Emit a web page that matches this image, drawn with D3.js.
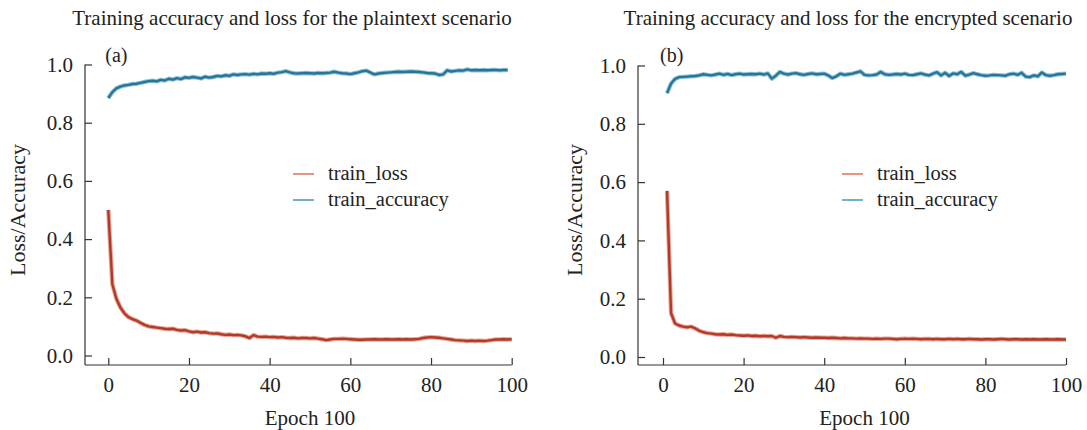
<!DOCTYPE html>
<html>
<head>
<meta charset="utf-8">
<script src="https://cdn.jsdelivr.net/npm/d3@7"></script>
<style>
  body { margin: 0; background: #fff; }
  svg text { font-family: "Liberation Serif", "Times New Roman", serif; fill: #222; }
</style>
</head>
<body>
<svg id="chart"></svg>
<script>
var xTicks = [0, 20, 40, 60, 80, 100];
var yTicks = [0, 0.2, 0.4, 0.6, 0.8, 1.0];
var seriesNames = ["train_loss", "train_accuracy"];

// plaintext run: loss logged on epochs 0..100, accuracy on 0..99
var plainLossEpochs = d3.range(0, 101);
var plainAccEpochs = d3.range(0, 100);
// encrypted run: epochs 1..100
var encEpochs = d3.range(1, 101);

var plainLoss = [0.50, 0.245, 0.195, 0.165, 0.145, 0.132, 0.125, 0.12, 0.112, 0.105,
  0.100, 0.098, 0.096, 0.094, 0.092, 0.091, 0.092, 0.088, 0.086, 0.087,
  0.083, 0.080, 0.082, 0.079, 0.080, 0.077, 0.075, 0.076, 0.073,
  0.071, 0.072, 0.070, 0.071, 0.069, 0.066, 0.060, 0.070, 0.065, 0.064,
  0.065, 0.063, 0.064, 0.062, 0.063, 0.061, 0.060, 0.061, 0.059, 0.060,
  0.060, 0.059, 0.060, 0.058, 0.056, 0.053, 0.055, 0.057, 0.057, 0.058,
  0.057, 0.056, 0.055, 0.054, 0.054, 0.055, 0.055, 0.056, 0.055,
  0.055, 0.056, 0.055, 0.055, 0.056, 0.055, 0.056, 0.055, 0.056,
  0.057, 0.060, 0.062, 0.063, 0.062, 0.061, 0.059, 0.057, 0.055, 0.053,
  0.052, 0.051, 0.050, 0.051, 0.050, 0.051, 0.050, 0.051, 0.053, 0.055,
  0.055, 0.056, 0.055, 0.056];

var plainAcc = [0.885, 0.905, 0.918, 0.924, 0.928, 0.930, 0.933, 0.934, 0.937, 0.940,
  0.943, 0.944, 0.942, 0.947, 0.945, 0.951, 0.948, 0.953, 0.950, 0.956,
  0.954, 0.957, 0.955, 0.952, 0.958, 0.955, 0.957, 0.961, 0.959, 0.963,
  0.961, 0.966, 0.964, 0.966, 0.967, 0.965, 0.968, 0.966, 0.969,
  0.968, 0.970, 0.968, 0.972, 0.974, 0.977, 0.973, 0.970, 0.969, 0.970,
  0.971, 0.970, 0.969, 0.971, 0.970, 0.971, 0.972, 0.975, 0.972, 0.970,
  0.969, 0.967, 0.970, 0.973, 0.977, 0.979, 0.972, 0.966, 0.969,
  0.971, 0.972, 0.973, 0.974, 0.975, 0.974, 0.975, 0.976, 0.975, 0.974,
  0.973, 0.971, 0.970, 0.969, 0.964, 0.966, 0.980, 0.976, 0.978,
  0.980, 0.979, 0.983, 0.980, 0.981, 0.980, 0.981, 0.980, 0.981, 0.981,
  0.980, 0.981, 0.981];

var encLoss = [0.57, 0.150, 0.115, 0.108, 0.104, 0.102, 0.104, 0.098, 0.090, 0.085,
  0.082, 0.080, 0.078, 0.077, 0.078, 0.076, 0.077, 0.075, 0.074, 0.073,
  0.074, 0.072, 0.073, 0.071, 0.072, 0.071, 0.072, 0.066, 0.072, 0.069,
  0.068, 0.069, 0.068, 0.067, 0.068, 0.067, 0.066, 0.067, 0.066, 0.066,
  0.065, 0.066, 0.065, 0.064, 0.065, 0.064, 0.064, 0.063, 0.064, 0.063,
  0.063, 0.062, 0.063, 0.062, 0.063, 0.063, 0.062, 0.061, 0.062, 0.063,
  0.062, 0.063, 0.062, 0.061, 0.062, 0.062, 0.061, 0.062, 0.061, 0.061,
  0.062, 0.061, 0.062, 0.061, 0.061, 0.062, 0.061, 0.061, 0.060, 0.061,
  0.061, 0.060, 0.061, 0.062, 0.061, 0.060, 0.061, 0.061, 0.060, 0.061,
  0.060, 0.061, 0.060, 0.060, 0.061, 0.060, 0.060, 0.061, 0.060, 0.060];

var encAcc = [0.905, 0.938, 0.954, 0.960, 0.961, 0.962, 0.963, 0.964, 0.966, 0.970,
  0.968, 0.966, 0.969, 0.972, 0.968, 0.971, 0.967, 0.970, 0.972, 0.969,
  0.970, 0.971, 0.970, 0.972, 0.969, 0.973, 0.955, 0.965, 0.978, 0.972,
  0.969, 0.972, 0.974, 0.970, 0.968, 0.971, 0.973, 0.970, 0.971, 0.972,
  0.966, 0.957, 0.963, 0.972, 0.968, 0.970, 0.972, 0.976, 0.980, 0.968,
  0.966, 0.967, 0.969, 0.978, 0.970, 0.968, 0.969, 0.971, 0.969, 0.972,
  0.968, 0.967, 0.970, 0.973, 0.969, 0.966, 0.972, 0.977, 0.966, 0.975,
  0.964, 0.973, 0.970, 0.978, 0.965, 0.969, 0.974, 0.970, 0.967, 0.965,
  0.966, 0.968, 0.967, 0.966, 0.965, 0.970, 0.972, 0.968, 0.975, 0.962,
  0.960, 0.966, 0.963, 0.976, 0.967, 0.965, 0.967, 0.970, 0.971, 0.972];

var width = 1087, height = 430;
var svg = d3.select("#chart").attr("width", width).attr("height", height);

var panels = [
  {title: "Training accuracy and loss for the plaintext scenario", tag: "(a)",
   loss: plainLoss, lossEp: plainLossEpochs, acc: plainAcc, accEp: plainAccEpochs,
   spineX: 85, spineY: 365, x0: 108.3, x1: 511.7, y0: 355.5, y1: 64.5,
   titleX: 292, legX: 293, labX: 18},
  {title: "Training accuracy and loss for the encrypted scenario", tag: "(b)",
   loss: encLoss, lossEp: encEpochs, acc: encAcc, accEp: encEpochs,
   spineX: 638, spineY: 365, x0: 663, x1: 1066, y0: 357, y1: 65.5,
   titleX: 848, legX: 842, labX: 575}
];

var lossColor = "#b3392b", lossHalo = "#e6a596", lossLegend = "#e07b66";
var accColor = "#2a7597", accHalo = "#91c6dd", accLegend = "#4f9cc6";
var serif = "'Liberation Serif', 'Times New Roman', serif";

panels.forEach(function(p) {
  var xScale = d3.scaleLinear().domain([0, 100]).range([p.x0, p.x1]);
  var yScale = d3.scaleLinear().domain([0, 1]).range([p.y0, p.y1]);
  var g = svg.append("g");

  // spines
  g.append("line").attr("x1", p.spineX).attr("x2", p.spineX)
    .attr("y1", p.y1).attr("y2", p.spineY)
    .attr("stroke", "#333").attr("stroke-width", 1.2);
  g.append("line").attr("x1", p.spineX).attr("x2", p.x1)
    .attr("y1", p.spineY).attr("y2", p.spineY)
    .attr("stroke", "#333").attr("stroke-width", 1.2);

  var yAxis = d3.axisLeft(yScale).tickValues(yTicks)
    .tickFormat(d3.format(".1f")).tickSizeInner(-7).tickSizeOuter(0).tickPadding(12);
  var yg = g.append("g").attr("transform", "translate(" + p.spineX + ",0)").call(yAxis);

  var xAxis = d3.axisBottom(xScale).tickValues(xTicks)
    .tickFormat(d3.format("d")).tickSizeInner(-7).tickSizeOuter(0).tickPadding(12);
  var xg = g.append("g").attr("transform", "translate(0," + p.spineY + ")").call(xAxis);

  [yg, xg].forEach(function(a) {
    a.attr("font-family", serif);
    a.select(".domain").remove();
    a.selectAll(".tick line").attr("stroke", "#333").attr("stroke-width", 1.2);
    a.selectAll(".tick text").attr("font-size", 21).attr("fill", "#222")
      .style("font-family", serif);
  });

  var line = function(vals, eps) {
    return d3.line()
      .x(function(d, i) { return xScale(eps[i]); })
      .y(function(d) { return yScale(d); })(vals);
  };

  [[p.loss, p.lossEp, lossHalo, lossColor], [p.acc, p.accEp, accHalo, accColor]].forEach(function(s) {
    g.append("path").attr("d", line(s[0], s[1])).attr("fill", "none")
      .attr("stroke", s[2]).attr("stroke-width", 4.4).attr("stroke-linejoin", "round");
    g.append("path").attr("d", line(s[0], s[1])).attr("fill", "none")
      .attr("stroke", s[3]).attr("stroke-width", 2.4).attr("stroke-linejoin", "round");
  });

  // title and labels
  g.append("text").text(p.title).attr("x", p.titleX).attr("y", 25)
    .attr("text-anchor", "middle").attr("font-size", 21);
  g.append("text").text(p.tag).attr("x", p.x0 - 3).attr("y", 62).attr("font-size", 20);
  g.append("text").text("Epoch 100").attr("x", (p.x0 + p.x1) / 2).attr("y", 425)
    .attr("text-anchor", "middle").attr("font-size", 21);
  g.append("text").text("Loss/Accuracy")
    .attr("transform", "translate(" + (p.labX + 7) + ",210) rotate(-90)")
    .attr("text-anchor", "middle").attr("font-size", 22);

  // legend
  var leg = g.append("g");
  seriesNames.forEach(function(name, i) {
    var ly = 174 + i * 26;
    leg.append("line").attr("x1", p.legX).attr("x2", p.legX + 21)
      .attr("y1", ly).attr("y2", ly)
      .attr("stroke", i === 0 ? lossLegend : accLegend).attr("stroke-width", 1.6);
    leg.append("text").text(name).attr("x", p.legX + 35).attr("y", ly + 6)
      .attr("font-size", 20.5);
  });
});
</script>
</body>
</html>
